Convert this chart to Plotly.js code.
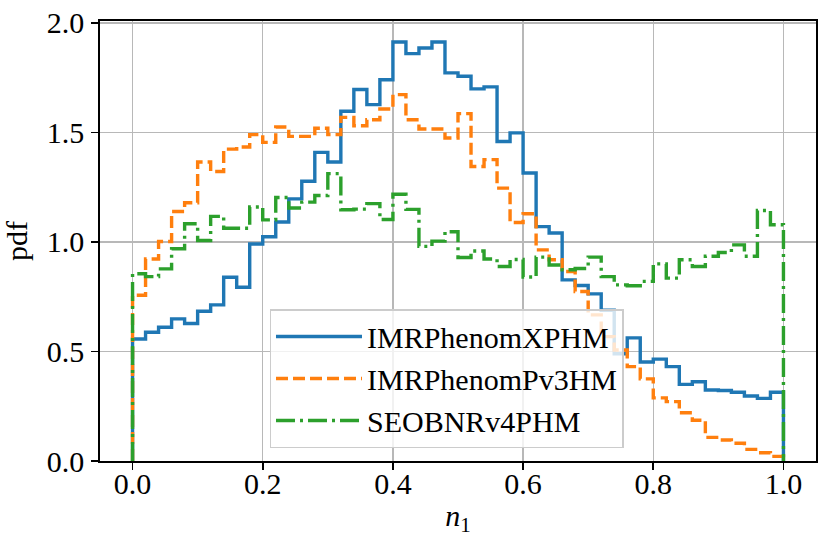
<!DOCTYPE html>
<html>
<head>
<meta charset="utf-8">
<script src="https://cdn.plot.ly/plotly-3.0.1.min.js"></script>
<style>
  html, body { margin: 0; padding: 0; background: #ffffff; }
  #plot { width: 830px; height: 550px; }
</style>
</head>
<body>
<div id="plot"></div>
<script>
// 50 bins of width 0.02 on [0, 1], density-normalised
const binStart = 0.0;
const binWidth = 0.02;

const seriesNames = ['IMRPhenomXPHM', 'IMRPhenomPv3HM', 'SEOBNRv4PHM'];

const pdfXPHM = [
    0.557, 0.588, 0.611, 0.649, 0.628, 0.684, 0.713, 0.839, 0.793, 0.991,
    1.024, 1.091, 1.197, 1.277, 1.409, 1.365, 1.597, 1.696, 1.627, 1.741,
    1.913, 1.860, 1.886, 1.913, 1.772, 1.757, 1.699, 1.708, 1.459, 1.498,
    1.315, 1.070, 1.041, 0.827, 0.801, 0.763, 0.688, 0.490, 0.562, 0.452,
    0.465, 0.431, 0.350, 0.362, 0.324, 0.322, 0.314, 0.297, 0.286, 0.314
];

const pdfPv3HM = [
    0.757, 0.922, 1.002, 1.139, 1.179, 1.365, 1.322, 1.424, 1.434, 1.490,
    1.455, 1.525, 1.482, 1.482, 1.519, 1.490, 1.569, 1.531, 1.558, 1.607,
    1.673, 1.558, 1.516, 1.516, 1.475, 1.586, 1.345, 1.376, 1.246, 1.089,
    1.129, 0.964, 0.919, 0.865, 0.774, 0.667, 0.568, 0.507, 0.431, 0.375,
    0.288, 0.271, 0.220, 0.186, 0.108, 0.096, 0.081, 0.053, 0.038, 0.021
];

const pdfSEOB = [
    0.855, 0.842, 0.877, 0.969, 1.083, 1.007, 1.117, 1.063, 1.063, 1.160,
    1.101, 1.203, 1.155, 1.182, 1.212, 1.312, 1.147, 1.150, 1.175, 1.103,
    1.218, 1.149, 0.980, 1.004, 1.047, 0.929, 0.959, 0.922, 0.888, 0.920,
    0.840, 0.931, 0.895, 0.873, 0.879, 0.931, 0.842, 0.804, 0.800, 0.820,
    0.900, 0.835, 0.919, 0.888, 0.935, 0.952, 0.987, 0.935, 1.144, 1.079
];

const xTicks = [0.0, 0.2, 0.4, 0.6, 0.8, 1.0];
const yTicks = [0.0, 0.5, 1.0, 1.5, 2.0];

const font = '"Liberation Serif", "DejaVu Serif", serif';
const fontSize = 30;

// outline of a step histogram: up from 0 at the first edge, down to 0 at the last
function stepOutline(values) {
    const x = [binStart];
    const y = [0];
    values.forEach((v, i) => {
        x.push(binStart + i * binWidth);
        y.push(v);
    });
    x.push(binStart + values.length * binWidth);
    y.push(0);
    return { x, y };
}

const styles = [
    { color: '#1f77b4', dash: 'solid' },
    { color: '#ff7f0e', dash: '12px,5px' },
    { color: '#2ca02c', dash: '19px,5px,3px,5px' }
];

const traces = [pdfXPHM, pdfPv3HM, pdfSEOB].map((vals, k) => {
    const s = stepOutline(vals);
    return {
        x: s.x,
        y: s.y,
        name: seriesNames[k],
        type: 'scatter',
        mode: 'lines',
        line: { shape: 'hv', color: styles[k].color, width: 3.4, dash: styles[k].dash },
        hoverinfo: 'skip'
    };
});

const axisCommon = {
    showline: true,
    mirror: true,
    linecolor: '#000000',
    linewidth: 1.8,
    ticks: 'outside',
    ticklen: 7,
    tickwidth: 1.8,
    tickcolor: '#000000',
    showgrid: true,
    gridcolor: '#b8b8b8',
    gridwidth: 1.5,
    zeroline: false,
    tickfont: { family: font, size: fontSize, color: '#000000' },
    tickformat: '.1f'
};

const layout = {
    width: 830,
    height: 550,
    margin: { l: 100, r: 14, t: 21, b: 89 },
    paper_bgcolor: '#ffffff',
    plot_bgcolor: '#ffffff',
    font: { family: font, size: fontSize, color: '#000000' },
    xaxis: Object.assign({}, axisCommon, {
        range: [-0.05, 1.05],
        tickvals: xTicks,
        ticklabelstandoff: -12,
        title: { text: '<i>n</i><sub>1</sub>', font: { family: font, size: fontSize }, standoff: 6 }
    }),
    yaxis: Object.assign({}, axisCommon, {
        range: [0, 2.009],
        tickvals: yTicks,
        ticklabelstandoff: 1,
        title: { text: 'pdf', font: { family: font, size: fontSize }, standoff: 10 }
    }),
    showlegend: true,
    legend: {
        x: 0.237,
        y: 0.345,
        xanchor: 'left',
        yanchor: 'top',
        bgcolor: 'rgba(255,255,255,0.8)',
        bordercolor: '#cccccc',
        borderwidth: 1.3,
        font: { family: font, size: fontSize, color: '#000000' },
        itemwidth: 86,
        tracegroupgap: 0
    },
    hovermode: false
};

Plotly.newPlot('plot', traces, layout, { displayModeBar: false, staticPlot: true });
</script>
</body>
</html>
